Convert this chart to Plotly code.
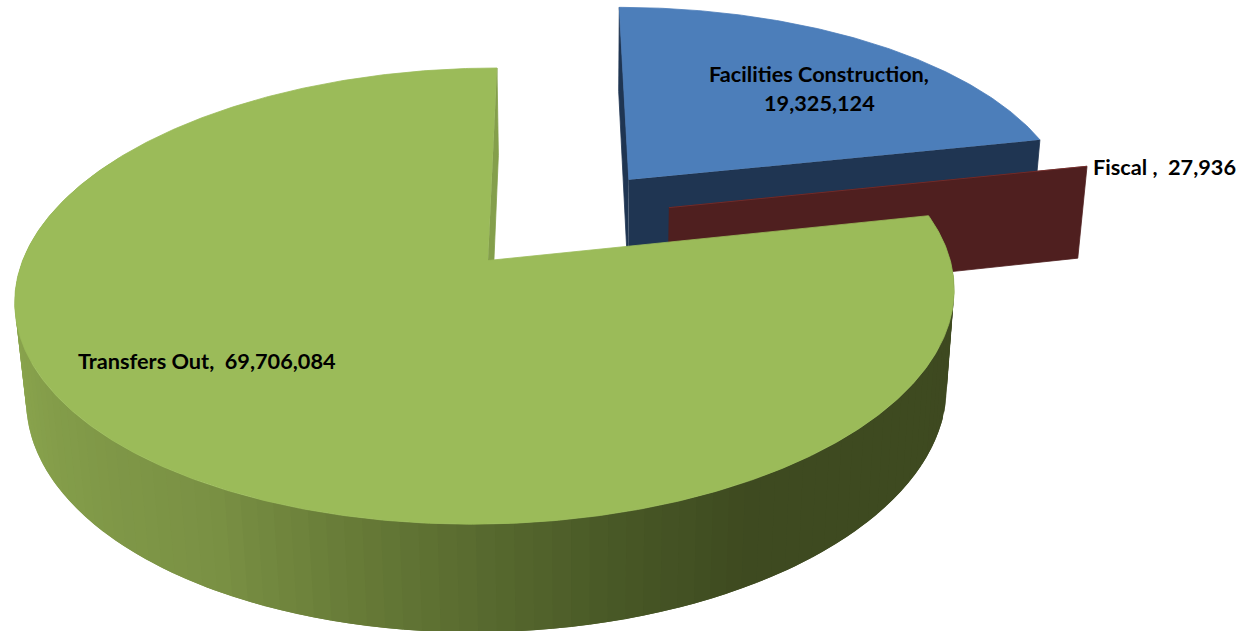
import numpy as np
import plotly.graph_objects as go

# Chart data
categories = ["Facilities Construction", "Fiscal", "Transfers Out"]
values = [19325124, 27936, 69706084]

# Slice styling
top_colors = ["#4C7EBA", "#7A2E2C", "#9BBB59"]
face_colors = ["#1F3552", "#4F1F1F", "#849F4B"]

# Exploded offset of each slice on the pie's ground plane, in radii
explode_u = [0.3136, 0.400, 0.0]
explode_v = [0.3830, 0.245, 0.0]
start_angle = 90.0

# Colour of the green outer wall by rim angle
wall_angles = [150, 190, 240, 256, 285, 300, 372]
wall_rgb = [(143, 171, 82), (139, 166, 78), (122, 145, 68), (104, 124, 56),
            (72, 88, 38), (62, 74, 32), (62, 73, 32)]


def project(u, v, z=0.0):
    """Perspective projection of pie coordinates to the page; z is depth below the top face."""
    w = 1 + 0.004 * u + 0.156 * v + 0.02 * z
    x = (465.8 * u + 86.5 * v + 488 + 11.6 * z) / w
    y = (260.5 - 181.9 * v + 104 * z) / w
    return x, y


def polygon(fig, u, v, z, color, edge=0.8):
    x, y = project(np.asarray(u), np.asarray(v), np.asarray(z))
    fig.add_trace(go.Scatter(
        x=x, y=y, mode="lines", fill="toself", fillcolor=color,
        line=dict(color=color, width=edge), hoverinfo="skip", showlegend=False,
    ))


def rim(angle_from, angle_to, step=0.5):
    n = max(2, int(abs(angle_to - angle_from) / step) + 1)
    return np.radians(np.linspace(angle_from, angle_to, n))


def radial_face(fig, ou, ov, angle, color):
    a = np.radians(angle)
    polygon(fig,
            [ou, ou + np.cos(a), ou + np.cos(a), ou],
            [ov, ov + np.sin(a), ov + np.sin(a), ov],
            [0, 0, 1, 1], color)


def top_face(fig, ou, ov, angle_from, angle_to, color):
    t = rim(angle_from, angle_to)
    polygon(fig,
            np.r_[ou, ou + np.cos(t)],
            np.r_[ov, ov + np.sin(t)],
            np.zeros(len(t) + 1), color)


def wall_color(angle):
    rgb = [np.interp(angle, wall_angles, [c[i] for c in wall_rgb]) for i in range(3)]
    return "rgb(%d,%d,%d)" % tuple(round(c) for c in rgb)


fractions = np.array(values) / sum(values)
sweeps = 360 * fractions
ends = start_angle - np.cumsum(sweeps)
starts = ends + sweeps

fig = go.Figure()

# Facilities slice: cut faces first, then the top
radial_face(fig, explode_u[0], explode_v[0], starts[0], face_colors[0])
radial_face(fig, explode_u[0], explode_v[0], ends[0], face_colors[0])
top_face(fig, explode_u[0], explode_v[0], starts[0], ends[0], top_colors[0])

# Fiscal slice: so thin that only its cut face shows
radial_face(fig, explode_u[1], explode_v[1], ends[1], face_colors[1])
top_face(fig, explode_u[1], explode_v[1], starts[1], ends[1], top_colors[1])

# Transfers slice: shaded outer wall, cut face, then the top.
# Each wall band runs past the next one so that no seam shows between them.
low, high = 150.0, starts[2] + 360
for a0 in np.arange(low, high, 2.0):
    a1 = min(a0 + 4.0, high)
    t = rim(a0, a1)
    c, s = np.cos(t), np.sin(t)
    polygon(fig, np.r_[c, c[::-1]], np.r_[s, s[::-1]],
            np.r_[np.zeros(len(t)), np.ones(len(t))], wall_color(a0 + 1), edge=0)
radial_face(fig, explode_u[2], explode_v[2], ends[2] % 360, face_colors[2])
top_face(fig, explode_u[2], explode_v[2], starts[2], ends[2], top_colors[2])


def label(text, x, y, anchor="center"):
    fig.add_annotation(x=x, y=y, text="<b>%s</b>" % text, showarrow=False,
                       xanchor=anchor, yanchor="middle",
                       font=dict(family="Lato", size=21.7, color="#000000"))


label(categories[0] + ",", 819, 74)
label(f"{values[0]:,}", 819, 103)
label(f"{categories[1]} ,  {values[1]:,}", 1091, 167, "left")
label(f"{categories[2]},  {values[2]:,}", 76, 361, "left")

fig.update_layout(
    width=1243, height=631,
    margin=dict(l=0, r=0, t=0, b=0),
    paper_bgcolor="white", plot_bgcolor="white",
    showlegend=False,
    xaxis=dict(range=[0, 1243], visible=False, fixedrange=True),
    yaxis=dict(range=[631, 0], visible=False, fixedrange=True),
)
fig.write_html("out.html")
